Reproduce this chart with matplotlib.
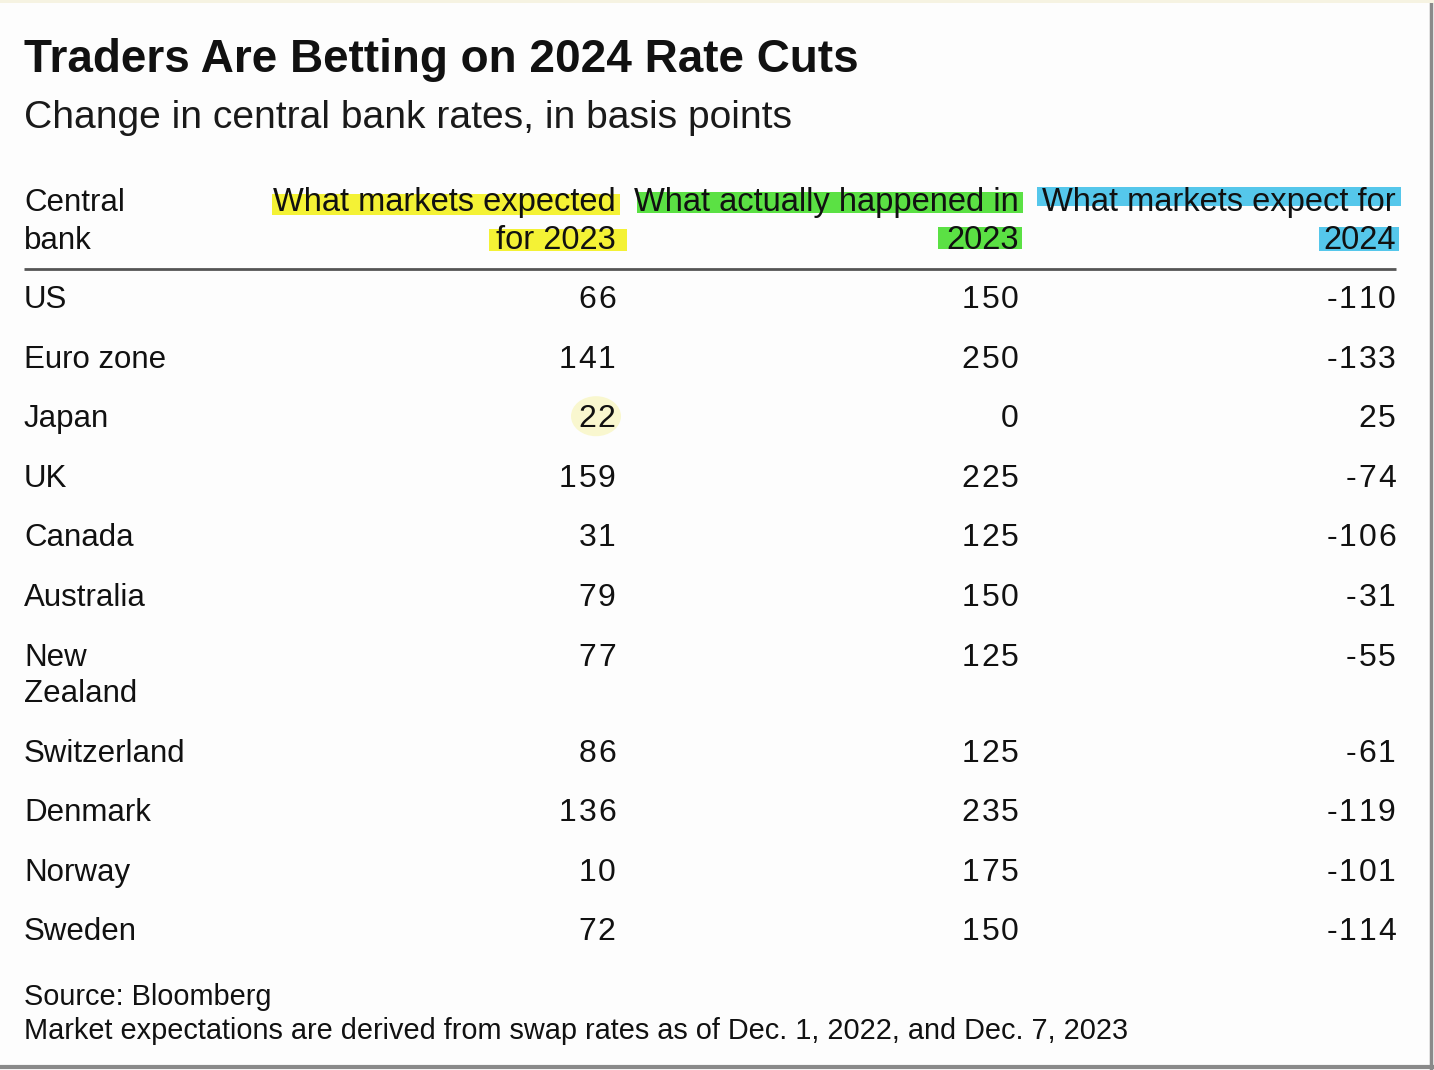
import matplotlib
matplotlib.use("Agg")
import matplotlib.pyplot as plt
from matplotlib.patches import Rectangle, Ellipse

# ---------------- data ----------------
title = "Traders Are Betting on 2024 Rate Cuts"
subtitle = "Change in central bank rates, in basis points"
col_headers = [
    ["Central", "bank"],
    ["What markets expected", "for 2023"],
    ["What actually happened in", "2023"],
    ["What markets expect for", "2024"],
]
banks = ["US", "Euro zone", "Japan", "UK", "Canada", "Australia",
         "New\nZealand", "Switzerland", "Denmark", "Norway", "Sweden"]
expected_2023 = [66, 141, 22, 159, 31, 79, 77, 86, 136, 10, 72]
actual_2023 = [150, 250, 0, 225, 125, 150, 125, 125, 235, 175, 150]
expected_2024 = [-110, -133, 25, -74, -106, -31, -55, -61, -119, -101, -114]
footer = ["Source: Bloomberg",
          "Market expectations are derived from swap rates as of Dec. 1, 2022, and Dec. 7, 2023"]

# ---------------- layout ----------------
W, H = 1434, 1070
FONT = ["Liberation Sans", "DejaVu Sans"]
TXT = "#111111"
fig = plt.figure(figsize=(W / 100, H / 100), dpi=100)
fig.patch.set_facecolor("#fdfdfd")
ax = fig.add_axes([0, 0, 1, 1])
ax.set_xlim(0, W)
ax.set_ylim(H, 0)
ax.axis("off")

left_x = 24
col_right = [616, 1019, 1396]
body_fs = 22.5
hdr_fs = 23.5
num_fs = 23
track = 1.8  # extra px between number glyphs


def tracked_right(x_right, y_base, s, fs, trk, zorder=3):
    """Draw a numeric string right-aligned at x_right with letter spacing."""
    em = fs * 100 / 72.0
    adv = {"-": 0.333 * em}
    widths = [adv.get(ch, 0.556 * em) for ch in s]
    total = sum(widths) + trk * (len(s) - 1)
    x = x_right - 0.01 * em - total
    for ch, w in zip(s, widths):
        ax.text(x + w / 2, y_base, ch, fontsize=fs, family=FONT, color=TXT,
                va="baseline", ha="center", zorder=zorder)
        x += w + trk


# title / subtitle
ax.text(left_x, 72, title, fontsize=33, fontweight="bold", family=FONT,
        color=TXT, va="baseline", ha="left")
ax.text(left_x, 128, subtitle, fontsize=28.1, family=FONT,
        color="#1a1a1a", va="baseline", ha="left")

# header highlights (marker strokes)
hl = [
    ("#f4f22a", [(272, 194, 348, 21), (489, 229, 138, 22)]),
    ("#52e03a", [(637, 192, 386, 21), (938, 227, 84, 22)]),
    ("#4cc4ea", [(1037, 187, 364, 19), (1319, 227, 80, 24)]),
]
for color, rects in hl:
    for (x, y, w, h) in rects:
        ax.add_patch(Rectangle((x, y), w, h, facecolor=color, edgecolor="none",
                               alpha=0.95, zorder=1))

# header text
hdr_base = [211, 249]
for li in range(2):
    ax.text(left_x, hdr_base[li], col_headers[0][li], fontsize=body_fs, family=FONT,
            color=TXT, va="baseline", ha="left", zorder=3)
    for ci in range(3):
        ax.text(col_right[ci], hdr_base[li], col_headers[ci + 1][li], fontsize=hdr_fs,
                family=FONT, color=TXT, va="baseline", ha="right", zorder=3)

# header rule
ax.plot([left_x, col_right[2]], [269, 269], color="#555555", lw=2.0,
        solid_capstyle="butt", zorder=2)

# rows
row_step = 59.6
line_step = 36.4
y = 297
for i, bank in enumerate(banks):
    lines = bank.split("\n")
    base = y + 11
    for k, ln in enumerate(lines):
        ax.text(left_x, base + k * line_step, ln, fontsize=body_fs, family=FONT,
                color=TXT, va="baseline", ha="left", zorder=3)
    vals = [expected_2023[i], actual_2023[i], expected_2024[i]]
    for ci, v in enumerate(vals):
        if bank == "Japan" and ci == 0:
            ax.add_patch(Ellipse((col_right[ci] - 20, y), 50, 40, facecolor="#f3f08a",
                                 edgecolor="none", alpha=0.4, zorder=1))
        tracked_right(col_right[ci], base, f"{v}", num_fs, track)
    y += row_step + line_step * (len(lines) - 1)

# footer
ax.text(left_x, 1005, footer[0], fontsize=20.8, family=FONT, color=TXT,
        va="baseline", ha="left")
ax.text(left_x, 1039, footer[1], fontsize=20.8, family=FONT, color=TXT,
        va="baseline", ha="left")

# frame edges of the screenshot
ax.plot([1431, 1431], [0, H], color="#8a8a8a", lw=2.5, zorder=5)
ax.plot([0, W], [1067, 1067], color="#8a8a8a", lw=3, zorder=5)
ax.add_patch(Rectangle((0, 0), W, 3, facecolor="#f6f3e2", edgecolor="none", zorder=5))

fig.savefig("out.png", dpi=100, facecolor=fig.get_facecolor())
